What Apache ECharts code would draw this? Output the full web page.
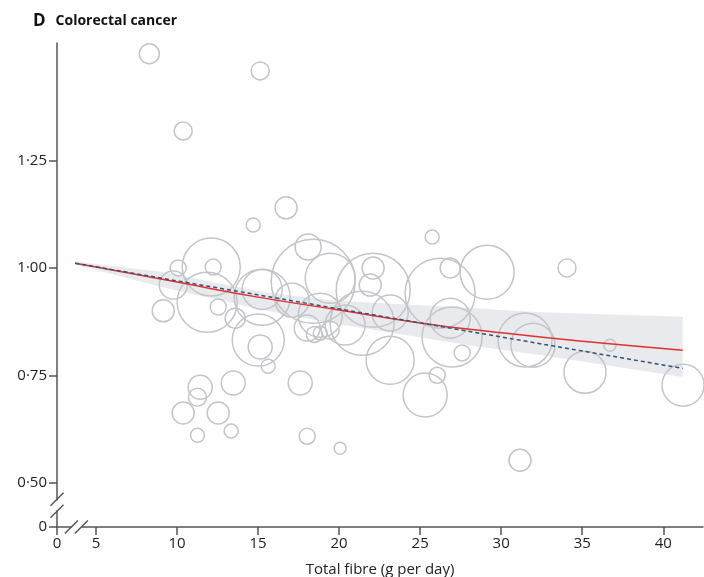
<!DOCTYPE html>
<html>
<head>
<meta charset="utf-8">
<title>Colorectal cancer</title>
<script src="https://cdn.jsdelivr.net/npm/echarts@6/dist/echarts.min.js"></script>
<style>
  html, body { margin: 0; padding: 0; background: #fff; }
  #chart { width: 704px; height: 577px; }
</style>
</head>
<body>
<div id="chart"></div>
<script>
// study bubbles: fibre intake, relative risk, bubble radius (study weight)
const fibre = [8.29, 15.13, 10.38, 16.73, 14.70, 18.09, 12.11, 10.07, 12.23, 9.77,
  9.15, 11.86, 12.54, 13.59, 15.25, 15.01, 15.13, 15.62, 18.40, 17.10,
  17.60, 13.47, 11.43, 11.26, 10.38, 12.54, 11.26, 13.34, 18.03, 20.06,
  25.74, 22.10, 21.92, 22.10, 21.42, 23.15, 23.15, 26.85, 29.13, 26.23,
  26.85, 26.97, 26.05, 25.31, 27.59, 31.47, 31.96, 35.17, 36.71, 41.22,
  34.06, 31.16, 19.45, 18.84, 19.45, 18.84, 20.37, 15.25, 18.03, 18.47];
const relRisk = [1.499, 1.459, 1.319, 1.140, 1.100, 1.049, 1.002, 1.000, 1.002, 0.960,
  0.900, 0.920, 0.909, 0.883, 0.932, 0.832, 0.816, 0.771, 0.969, 0.925,
  0.732, 0.732, 0.722, 0.699, 0.662, 0.662, 0.610, 0.620, 0.608, 0.580,
  1.072, 1.000, 0.960, 0.948, 0.871, 0.895, 0.785, 1.000, 0.990, 0.941,
  0.883, 0.839, 0.750, 0.704, 0.802, 0.832, 0.820, 0.757, 0.820, 0.727,
  1.000, 0.552, 0.976, 0.848, 0.855, 0.890, 0.867, 0.950, 0.860, 0.845];
const studySize = [10, 9, 9, 11, 7, 13, 29, 8, 8, 14,
  11, 30, 8, 10, 28, 26, 12, 7, 42, 17,
  12, 12, 12, 9, 11, 11, 7, 7, 8, 6,
  7, 11, 11, 37, 32, 18, 24, 10, 27, 35,
  20, 30, 8, 22, 8, 27, 22, 21, 6, 21,
  9, 11, 25, 7, 9, 22, 20, 20, 13, 8];

// dose-response curves
const curveX = [3.72, 5, 10, 15, 20, 25, 30, 35, 41.2];
const splineRR = [1.011, 1.002, 0.967, 0.932, 0.902, 0.872, 0.849, 0.829, 0.8085];
const linearX = [3.72, 41.2];
const linearRR = [1.011, 0.766];

// confidence band
const bandX = [3.72, 9, 15.3, 19.5, 28.3, 32.4, 41.2];
const bandUpper = [1.015, 0.991, 0.944, 0.925, 0.906, 0.897, 0.886];
const bandLower = [1.008, 0.956, 0.902, 0.872, 0.818, 0.797, 0.746];

// axes (both broken near zero)
const xMin = 2.595, xMax = 42.45, xBreak = 3.79;
const yMin = 0.3965, yMax = 1.524, yBreak = 0.447;
const xTicks = [xMin, 5, 10, 15, 20, 25, 30, 35, 40];
const yTicks = [yMin, 0.5, 0.75, 1.0, 1.25];

const fontFamily = '"Open Sans", sans-serif';
const axisColor = '#555';

const chart = echarts.init(document.getElementById('chart'));

const option = {
  animation: false,
  backgroundColor: '#fff',
  title: {
    left: 28,
    top: 7,
    text: '{d|D}  {t|Colorectal cancer}',
    textStyle: {
      rich: {
        d: { fontFamily: fontFamily, fontWeight: 'bold', fontSize: 17, color: '#111' },
        t: { fontFamily: fontFamily, fontWeight: 'bold', fontSize: 14, color: '#111' }
      }
    }
  },
  grid: { left: 57, right: 1, top: 43, bottom: 50, outerBoundsMode: 'none', containLabel: false },
  xAxis: {
    type: 'value',
    min: xMin,
    max: xMax,
    name: 'Total fibre (g per day)',
    nameLocation: 'middle',
    nameGap: 35,
    nameTextStyle: { fontFamily: fontFamily, fontSize: 15, color: '#222' },
    splitLine: { show: false },
    axisLine: { show: true, lineStyle: { color: axisColor, width: 1.5 } },
    axisTick: { show: true, length: 8, customValues: xTicks, lineStyle: { color: axisColor, width: 1.5 } },
    axisLabel: {
      customValues: xTicks,
      margin: 9,
      fontFamily: fontFamily,
      fontSize: 15,
      color: '#222',
      formatter: function (v) { return Math.abs(v - xMin) < 1e-6 ? '0' : String(v); }
    }
  },
  yAxis: {
    type: 'value',
    min: yMin,
    max: yMax,
    splitLine: { show: false },
    axisLine: { show: true, lineStyle: { color: axisColor, width: 1.5 } },
    axisTick: { show: true, length: 8, customValues: yTicks, lineStyle: { color: axisColor, width: 1.5 } },
    axisLabel: {
      customValues: yTicks,
      margin: 10,
      fontFamily: fontFamily,
      fontSize: 15,
      color: '#222',
      formatter: function (v) {
        return Math.abs(v - yMin) < 1e-6 ? '0' : v.toFixed(2).replace('.', '\u00b7');
      }
    }
  },
  series: [
    {
      name: 'band',
      type: 'custom',
      silent: true,
      data: [0],
      renderItem: function (params, api) {
        const pts = [];
        bandX.forEach((x, i) => pts.push(api.coord([x, bandUpper[i]])));
        for (let i = bandX.length - 1; i >= 0; i--) pts.push(api.coord([bandX[i], bandLower[i]]));
        return {
          type: 'polygon',
          shape: { points: pts },
          style: { fill: '#e8eaed' }
        };
      }
    },
    {
      name: 'studies',
      type: 'custom',
      silent: true,
      encode: { x: 0, y: 1 },
      data: fibre.map((x, i) => [x, relRisk[i], studySize[i]]),
      renderItem: function (params, api) {
        const c = api.coord([api.value(0), api.value(1)]);
        return {
          type: 'circle',
          shape: { cx: c[0], cy: c[1], r: api.value(2) },
          style: { fill: 'none', stroke: '#c3c5c9', lineWidth: 1.5 }
        };
      }
    },
    {
      name: 'spline',
      type: 'line',
      smooth: true,
      symbol: 'none',
      silent: true,
      lineStyle: { color: '#e3302d', width: 1.5 },
      data: curveX.map((x, i) => [x, splineRR[i]])
    },
    {
      name: 'linear',
      type: 'line',
      symbol: 'none',
      silent: true,
      lineStyle: { color: '#2e5677', width: 1.5, type: [4, 3] },
      data: linearX.map((x, i) => [x, linearRR[i]])
    }
  ]
};

chart.setOption(option);

// axis break marks "//"
const py = chart.convertToPixel({ gridIndex: 0 }, [xMin, yBreak]);
const px = chart.convertToPixel({ gridIndex: 0 }, [xBreak, yMin]);
const slash = (cx, cy) => ({
  type: 'line',
  shape: { x1: cx - 6.5, y1: cy + 6.5, x2: cx + 6.5, y2: cy - 6.5 },
  style: { stroke: axisColor, lineWidth: 1.5 },
  z: 100
});
chart.setOption({
  graphic: [
    { type: 'rect', shape: { x: py[0] - 4, y: py[1] - 5, width: 8, height: 10 }, style: { fill: '#fff' }, z: 99 },
    slash(py[0], py[1] - 6),
    slash(py[0], py[1] + 6),
    { type: 'rect', shape: { x: px[0] - 5, y: px[1] - 4, width: 10, height: 8 }, style: { fill: '#fff' }, z: 99 },
    slash(px[0] - 5, px[1]),
    slash(px[0] + 5, px[1])
  ]
});
</script>
</body>
</html>
